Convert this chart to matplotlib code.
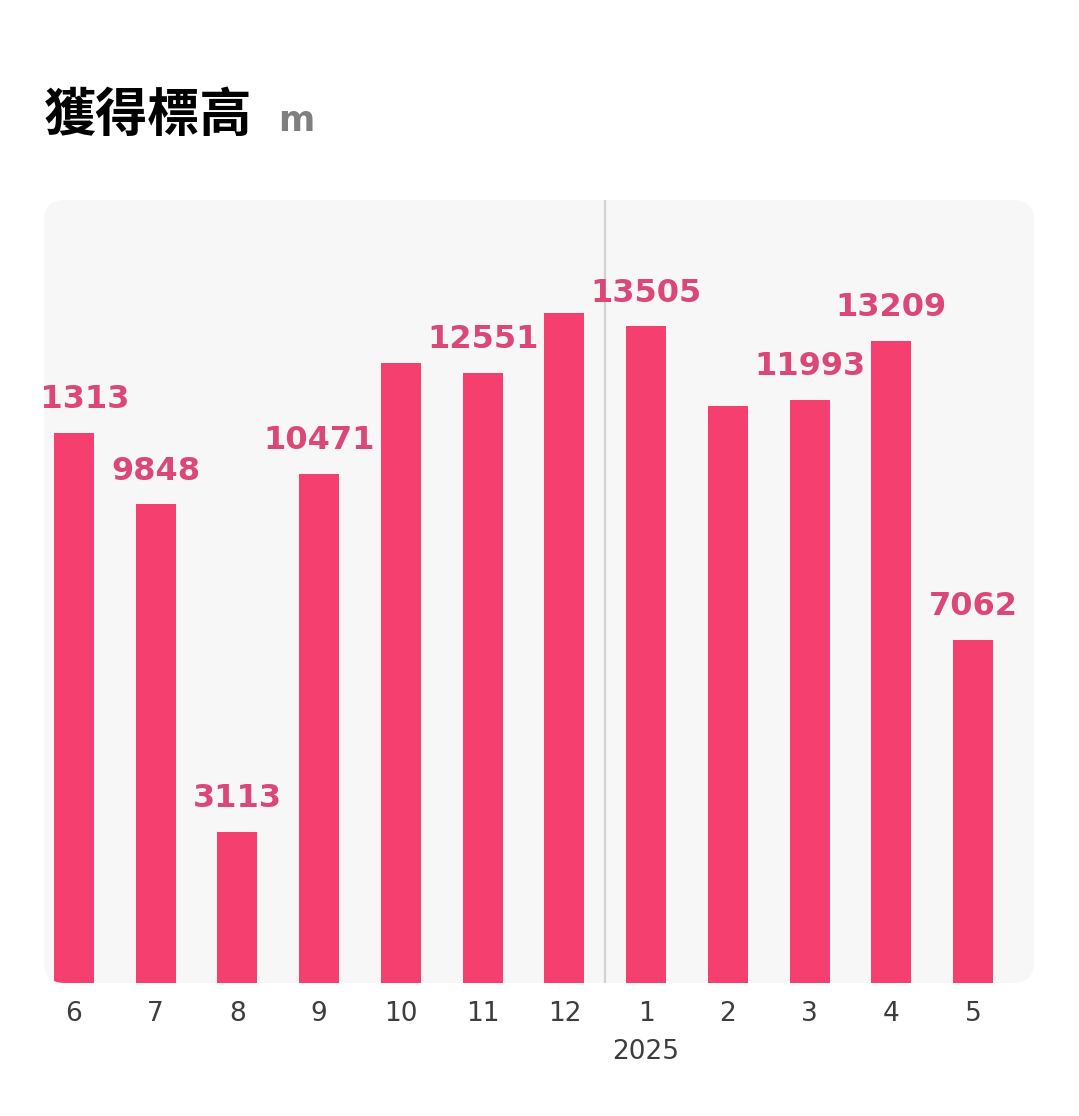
import matplotlib
matplotlib.use("Agg")
import matplotlib.pyplot as plt
from matplotlib.patches import FancyBboxPatch


months = ["6", "7", "8", "9", "10", "11", "12", "1", "2", "3", "4", "5"]
elevation = [11313, 9848, 3113, 10471, 12750, 12551, 13780, 13505, 11870, 11993, 13209, 7062]
# labels the app actually shows (some are hidden)
shown = [True, True, True, True, False, True, False, True, False, True, True, True]
year_label = "2025"
year_index = 7

BAR_COLOR = "#F53F6F"
LABEL_COLOR = "#DB4877"
PANEL_COLOR = "#F7F7F7"

W, H = 1079, 1116
fig = plt.figure(figsize=(W / 100, H / 100), dpi=100)
fig.patch.set_facecolor("white")

# axes box in pixels: left 44, right 1034, top 200, bottom 983
ax_l, ax_r, ax_t, ax_b = 44, 1034, 200, 983
ax = fig.add_axes([ax_l / W, (H - ax_b) / H, (ax_r - ax_l) / W, (ax_b - ax_t) / H])
ax.set_facecolor("none")
for s in ax.spines.values():
	s.set_visible(False)

aspect = (ax_r - ax_l) / (ax_b - ax_t)
panel = FancyBboxPatch(
	(0, 0), 1, 1,
	boxstyle="round,pad=0,rounding_size=0.021",
	mutation_aspect=aspect,
	transform=ax.transAxes,
	facecolor=PANEL_COLOR,
	edgecolor="none",
	zorder=0,
)
ax.add_patch(panel)

x = list(range(len(months)))
bars = ax.bar(x, elevation, width=0.49, color=BAR_COLOR, zorder=2)
for b in bars:
	b.set_clip_path(panel)

ax.axvline(6.5, color="#D2D2D2", lw=1.6, zorder=1)

for i, (v, s) in enumerate(zip(elevation, shown)):
	if not s:
		continue
	ax.text(
		i, v + 360, f"{v}", ha="center", va="bottom", color=LABEL_COLOR,
		fontsize=23, fontweight="bold", family="DejaVu Sans", zorder=3,
		clip_on=True,
	)

ax.set_xlim(-0.367, 11.746)
ax.set_ylim(0, 16100)
ax.set_yticks([])
ax.set_xticks(x, months)
ax.tick_params(axis="x", length=0, pad=13, labelsize=19, labelcolor="#3D3D3D")

ax.annotate(year_label, (year_index, 0), xytext=(0, -40), textcoords="offset points",
	ha="center", va="top", fontsize=19, color="#3D3D3D", annotation_clip=False)

fig.text(44 / W, 1 - 131 / H, "獲得標高", fontsize=37.5, fontweight="bold",
	family=["Noto Sans CJK TC", "DejaVu Sans"], color="black", va="baseline")
fig.text(278 / W, 1 - 131 / H, "m", fontsize=25, fontweight="bold",
	family="DejaVu Sans", color="#7F7F7F", va="baseline")

fig.savefig("out.png", dpi=100)
